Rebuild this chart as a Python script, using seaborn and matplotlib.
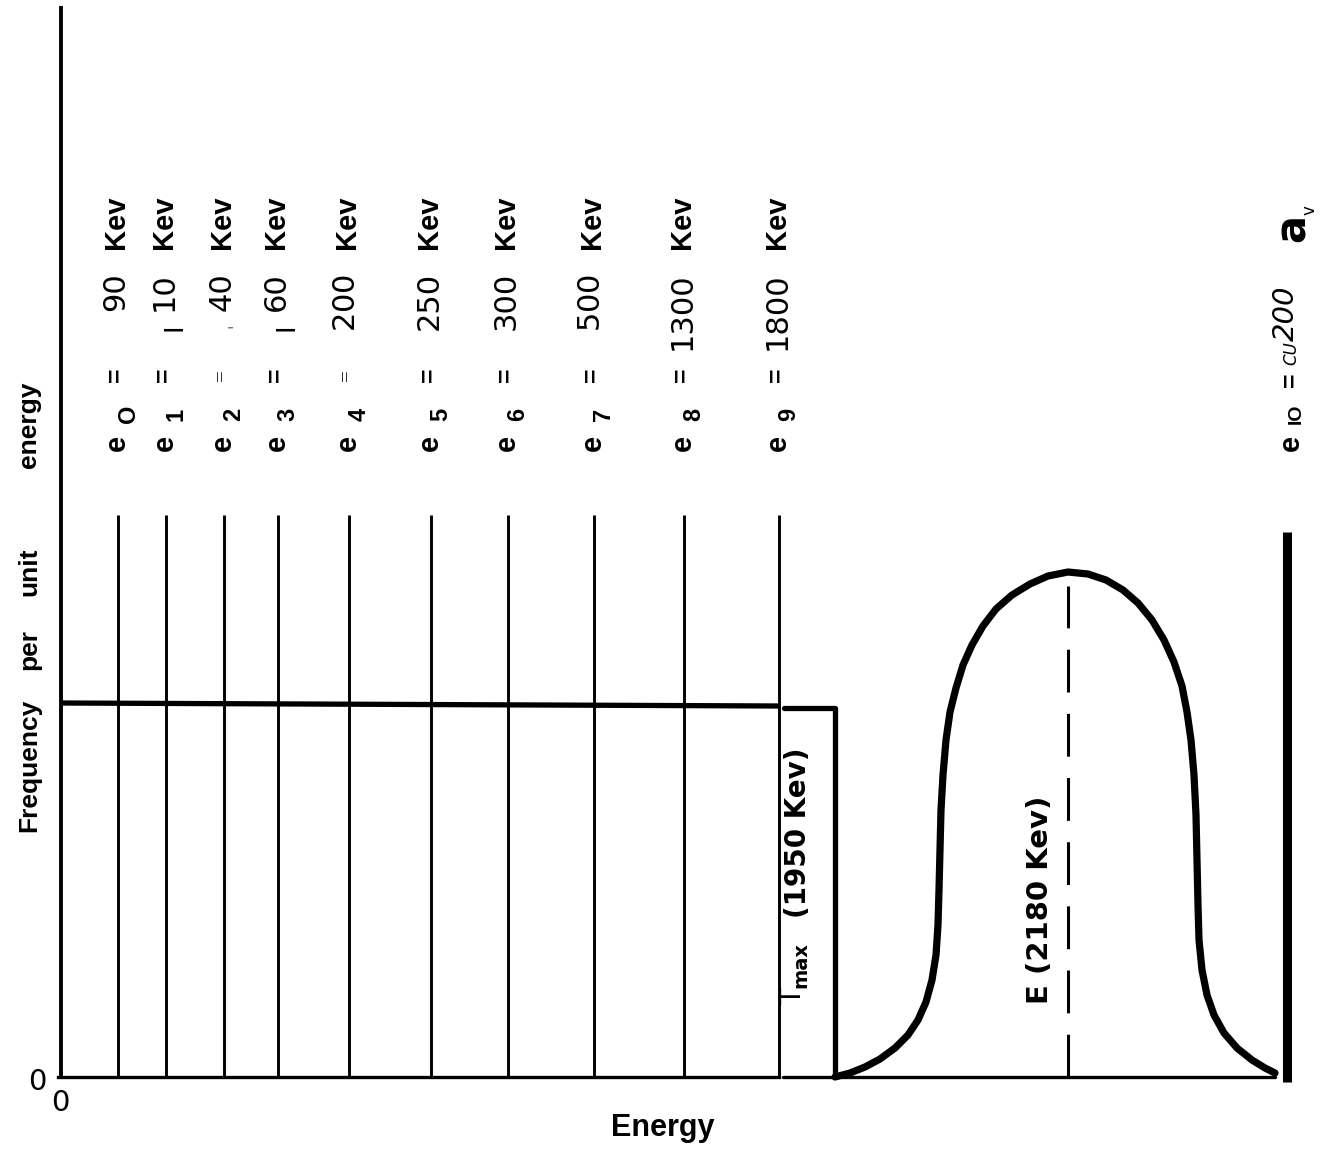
import numpy as np
import pandas as pd
import matplotlib
matplotlib.use("Agg")
import matplotlib.pyplot as plt
import matplotlib.transforms as mtransforms
import seaborn as sns

# ---- data -------------------------------------------------------------
# discrimination levels e0..e9: subscript, energy (Kev), place on the schematic energy axis
level_index = ["O", "1", "2", "3", "4", "5", "6", "7", "8", "9"]
level_energy = ["90", "110", "140", "160", "200", "250", "300", "500", "1300", "1800"]
level_pos = [57, 105, 163, 217, 288, 370, 447, 533, 623, 718]
level_top = 562

# flat spectrum up to T_max
flat_x = [0, 718]
flat_y = [374, 371]
tmax_x = [723, 774, 774]
tmax_y = [369, 369, 0]

# peak of the full-energy line around E
peak_x = [774, 789, 804, 819, 834, 847, 857, 865, 871, 875, 877, 878, 879, 880, 882,
          885, 889, 895, 902, 911, 922, 935, 951, 969, 987, 1007,
          1027, 1045, 1062, 1077, 1091, 1103, 1113, 1121, 1126, 1130, 1133, 1135,
          1136, 1137, 1138, 1141, 1146, 1153, 1163, 1176, 1191, 1204, 1214]
peak_y = [0, 4, 10, 18, 29, 42, 57, 75, 97, 122, 152, 187, 227, 267, 302,
          337, 365, 389, 412, 432, 451, 468, 482, 493, 501, 505,
          503, 497, 487, 474, 457, 437, 415, 391, 365, 337, 302, 262,
          217, 172, 137, 107, 82, 62, 44, 29, 17, 9, 4]
peak_center = 1007
peak_top = 505

# top level e10
bar_pos = 1226
bar_top = 545

# ---- figure -----------------------------------------------------------
sns.set_theme(style="white")
plt.rcParams["font.family"] = ["DejaVu Sans"]
plt.rcParams["mathtext.fontset"] = "dejavusans"
plt.rcParams["text.color"] = "black"

W, H = 1320, 1150
fig = plt.figure(figsize=(W / 100, H / 100), dpi=100)
ax_left, ax_right, ax_bottom, ax_top = 61, 1310, 1077, 8
ax = fig.add_axes([ax_left / W, 1 - ax_bottom / H,
                   (ax_right - ax_left) / W, (ax_bottom - ax_top) / H])
ax.set_xlim(0, ax_right - ax_left)
ax.set_ylim(0, ax_bottom - ax_top)
ax.set_xticks([])
ax.set_yticks([])
ax.patch.set_alpha(0)

ink = "black"
for s in ["top", "right"]:
    ax.spines[s].set_visible(False)
ax.spines["left"].set_linewidth(2.8)
ax.spines["left"].set_color(ink)
ax.spines["bottom"].set_linewidth(2.4)
ax.spines["bottom"].set_color(ink)
ax.spines["bottom"].set_bounds(-3, level_pos[-1])

# baseline continuing under the peak
base = sns.lineplot(x=[722, peak_x[-1]], y=[0, 0], ax=ax, color=ink, lw=2.4,
                    sort=False, estimator=None)
base.lines[-1].set_clip_on(False)

# level lines
ax.vlines(level_pos, 0, level_top, color=ink, lw=2.1)

# flat spectrum and the drop at T_max
sns.lineplot(x=flat_x, y=flat_y, ax=ax, color=ink, lw=3.8, sort=False,
             estimator=None, solid_capstyle="butt")
sns.lineplot(x=tmax_x, y=tmax_y, ax=ax, color=ink, lw=3.8, sort=False,
             estimator=None, solid_joinstyle="round")

# line shape around E
peak = pd.DataFrame({"x": peak_x, "y": peak_y})
sns.lineplot(data=peak, x="x", y="y", ax=ax, color=ink, lw=5.2, sort=False,
             estimator=None, solid_joinstyle="round", solid_capstyle="round")
ax.lines[-1].set_clip_on(False)
ax.vlines(peak_center, 0, peak_top - 14, color=ink, lw=2.2,
          linestyles=(0, (14, 7)))

# e10 level
ax.vlines(bar_pos, -5, bar_top, color=ink, lw=6.5, clip_on=False)

# ---- text -------------------------------------------------------------
def fx(px):
    return px / W


def fy(py):
    return 1 - py / H


col = mtransforms.blended_transform_factory(ax.transData, fig.transFigure)
bold = dict(family="Liberation Sans", weight="bold")
rot = dict(rotation=90, ha="center", va="center")

for i, (sub, val, x) in enumerate(zip(level_index, level_energy, level_pos)):
    ax.text(x - 1, fy(443), "e", transform=col, fontsize=21, **bold, **rot)
    ax.text(x + 10, fy(414), sub, transform=col, fontsize=17, **bold, **rot)
    if i in (2, 4):
        ax.text(x - 2, fy(375), "=", transform=col, fontsize=15,
                family="Liberation Serif", **rot)
    else:
        ax.text(x - 2, fy(375), "=", transform=col, fontsize=18, **bold, **rot)
    if val in ("110", "140", "160"):
        ax.text(x - 2, fy(272), val[1:], transform=col, fontsize=22,
                rotation=90, ha="center", va="top")
        size = 6 if val == "140" else 20
        ax.text(x + 8, fy(327), "I", transform=col, fontsize=size,
                family="Liberation Sans", **rot)
    elif val in ("200", "500"):
        ax.text(x - 2, fy(274), val[0] + r"$\mathit{" + val[1:] + "}$",
                transform=col, fontsize=22, rotation=90, ha="center", va="top")
    else:
        ax.text(x - 2, fy(272), val, transform=col, fontsize=22,
                rotation=90, ha="center", va="top")
    ax.text(x - 2, fy(222), "Kev", transform=col, fontsize=21, **bold, **rot)

# e10 label
ax.text(bar_pos + 4, fy(443), "e", transform=col, fontsize=21, **bold, **rot)
ax.text(bar_pos + 9, fy(414), "IO", transform=col, fontsize=14, **bold, **rot)
ax.text(bar_pos + 4, fy(380), "=", transform=col, fontsize=18, **bold, **rot)
ax.text(bar_pos + 4, fy(353), "CU", transform=col, fontsize=12,
        style="italic", **rot)
ax.text(bar_pos - 1, fy(313), "200", transform=col, fontsize=21,
        style="italic", **rot)
ax.text(bar_pos + 6, fy(228), "a", transform=col, fontsize=30,
        weight="bold", **rot)
ax.text(bar_pos + 23, fy(210), "v", transform=col, fontsize=12, **rot)

# T_max and E labels
fig.text(fx(793), fy(997), "T", fontsize=20, **rot)
fig.text(fx(801), fy(965), "max", fontsize=14, weight="bold", **rot)
fig.text(fx(798), fy(833), "(1950 Kev)", fontsize=20, weight="bold", **rot)
fig.text(fx(1040), fy(900), "E (2180 Kev)", fontsize=21, weight="bold", **rot)

# axis titles and origin
for word, py in [("energy", 425), ("unit", 572), ("per", 650), ("Frequency", 765)]:
    fig.text(fx(29), fy(py), word, fontsize=19, **bold, **rot)
fig.text(fx(663), fy(1128), "Energy", fontsize=22, ha="center", va="center", **bold)
fig.text(fx(37), fy(1082), "0", fontsize=21, ha="center", va="center")
fig.text(fx(60), fy(1103), "0", fontsize=21, ha="center", va="center")

fig.savefig("out.png", dpi=100, facecolor="white")
